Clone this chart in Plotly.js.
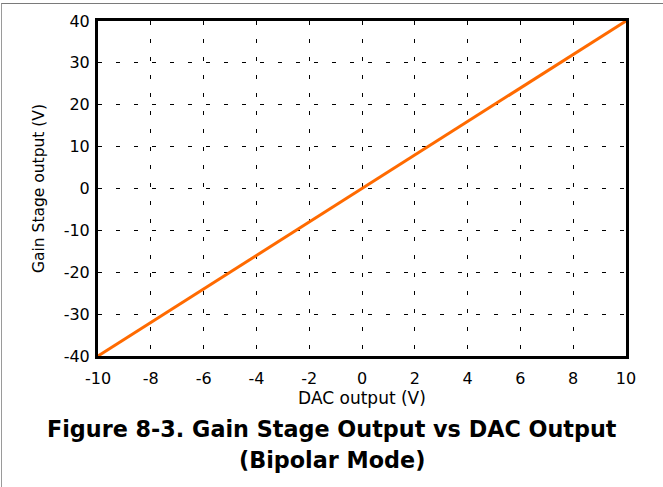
<!DOCTYPE html>
<html>
<head>
<meta charset="utf-8">
<script src="https://cdn.plot.ly/plotly-3.0.1.min.js"></script>
<style>
html,body{margin:0;padding:0;background:#fff;}
#chart{width:663px;height:487px;position:relative;}
#frame{position:absolute;left:1px;top:3px;width:700px;height:600px;border-top:1px solid #7a7a7a;border-left:1px solid #9a9a9a;pointer-events:none;z-index:10;}
</style>
</head>
<body>
<div id="chart"></div>
<div id="frame"></div>
<script>
// Data
var dacOutput = [-10, 10];
var gainStageOutput = [-40, 40];
var xTicks = [-10, -8, -6, -4, -2, 0, 2, 4, 6, 8, 10];
var yTicks = [-40, -30, -20, -10, 0, 10, 20, 30, 40];
var captionLine1 = "Figure 8-3. Gain Stage Output vs DAC Output";
var captionLine2 = "(Bipolar Mode)";

var wideFont = "DejaVu Sans, sans-serif";

var trace = {
  x: dacOutput,
  y: gainStageOutput,
  mode: "lines",
  line: {color: "#ff6a00", width: 3},
  hoverinfo: "skip"
};

var capX = (332 - 98) / 528;

var layout = {
  width: 663,
  height: 487,
  margin: {l: 98, r: 37, t: 21, b: 131},
  paper_bgcolor: "#ffffff",
  plot_bgcolor: "#ffffff",
  showlegend: false,
  font: {family: wideFont, color: "#000"},
  xaxis: {
    range: [-10, 10],
    tickvals: xTicks,
    ticktext: xTicks.map(String),
    tickfont: {size: 16, family: wideFont, color: "#000"},
    ticklabelstandoff: 6,
    showgrid: true,
    gridcolor: "#000",
    gridwidth: 1,
    griddash: "4px,14px",
    showline: true,
    linecolor: "#000",
    linewidth: 3,
    mirror: true,
    zeroline: false,
    ticks: "",
    ticklen: 0,
    title: {text: "DAC output (V)", font: {size: 17, family: wideFont, color: "#000"}, standoff: 0}
  },
  yaxis: {
    range: [-40, 40],
    tickvals: yTicks,
    ticktext: yTicks.map(String),
    tickfont: {size: 16, family: wideFont, color: "#000"},
    ticklabelstandoff: 2,
    showgrid: true,
    gridcolor: "#000",
    gridwidth: 1,
    griddash: "4px,14px",
    showline: true,
    linecolor: "#000",
    linewidth: 3,
    mirror: true,
    zeroline: false,
    ticks: "",
    ticklen: 0,
    title: {text: "Gain Stage output (V)", font: {size: 15.5, family: wideFont, color: "#000"}, standoff: 16}
  },
  annotations: [
    {text: "<b>" + captionLine1 + "</b>", xref: "paper", yref: "paper", x: capX, y: -(429 - 356) / 335, yanchor: "middle", xanchor: "center", showarrow: false, font: {size: 22.3, family: wideFont, color: "#000"}},
    {text: "<b>" + captionLine2 + "</b>", xref: "paper", yref: "paper", x: capX, y: -(460 - 356) / 335, yanchor: "middle", xanchor: "center", showarrow: false, font: {size: 22.3, family: wideFont, color: "#000"}}
  ]
};

Plotly.newPlot("chart", [trace], layout, {displayModeBar: false, staticPlot: true});
</script>
</body>
</html>
